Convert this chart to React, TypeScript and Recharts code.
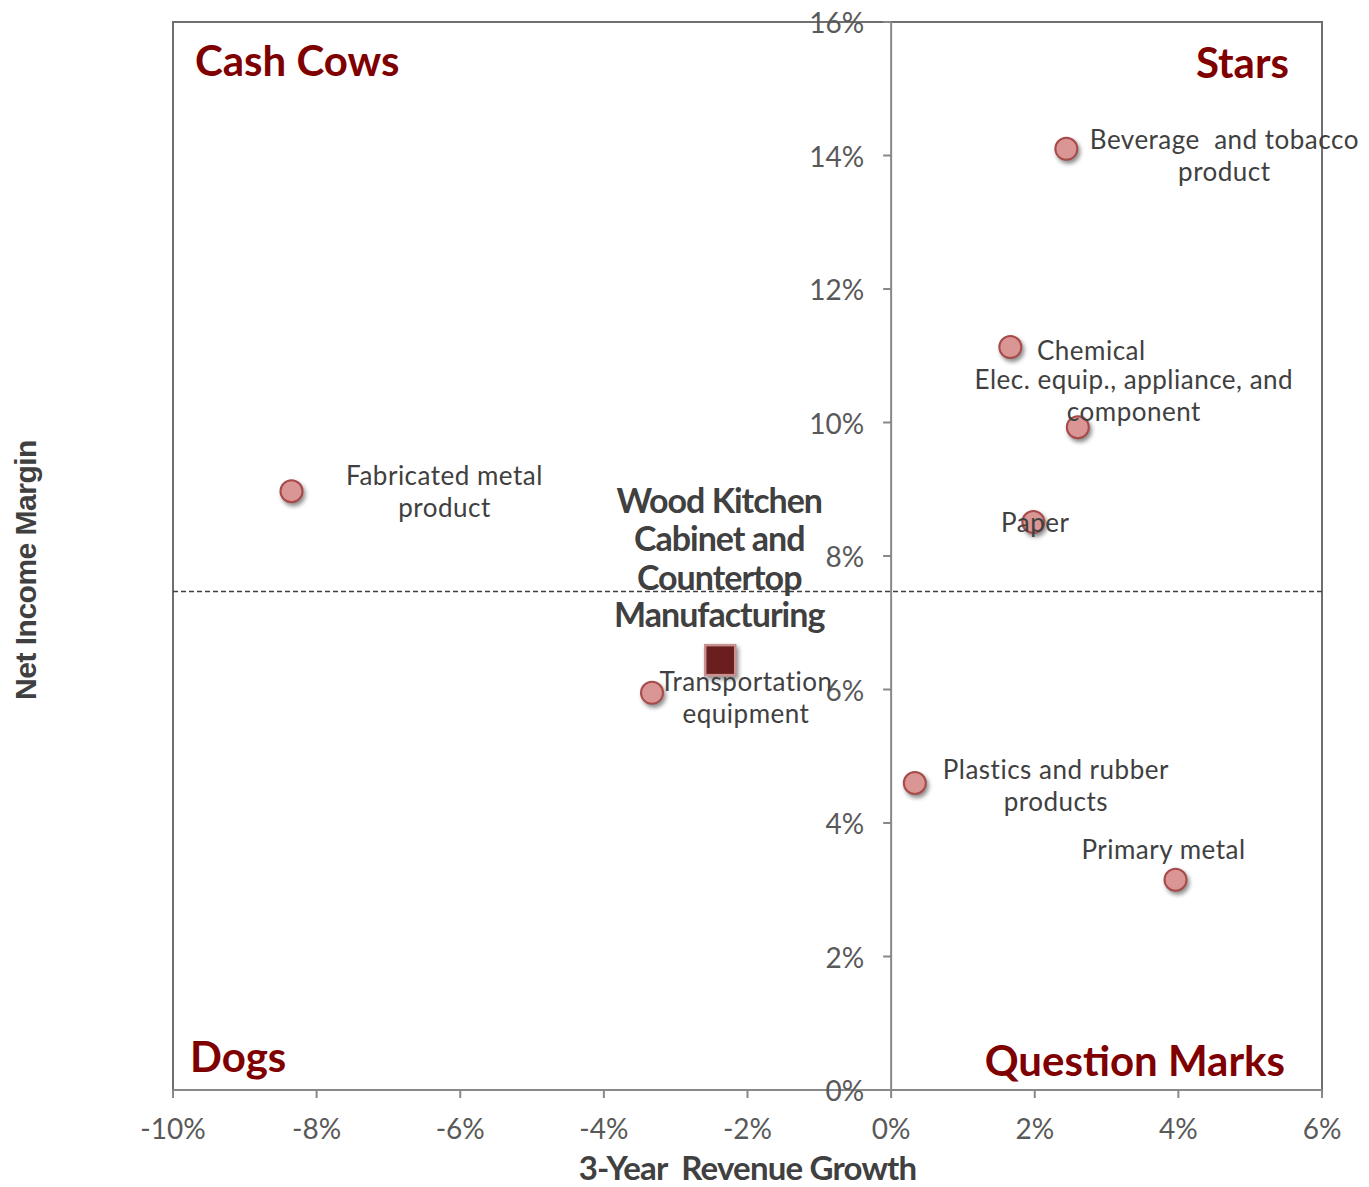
import React from 'react';
import {
  ScatterChart,
  Scatter,
  XAxis,
  YAxis,
  ReferenceLine,
  ReferenceArea,
  ReferenceDot,
  Label,
} from 'recharts';

// ---------- data ----------
const industryNames = [
  'Fabricated metal product',
  'Transportation equipment',
  'Plastics and rubber products',
  'Primary metal',
  'Paper',
  'Elec. equip., appliance, and component',
  'Chemical',
  'Beverage and tobacco product',
];
const revenueGrowth = [-8.35, -3.33, 0.33, 3.96, 1.98, 2.6, 1.66, 2.44];
const netIncomeMargin = [8.97, 5.95, 4.6, 3.15, 8.51, 9.93, 11.13, 14.1];

const focusName = 'Wood Kitchen Cabinet and Countertop Manufacturing';
const focusGrowth = [-2.38];
const focusMargin = [6.44];

const xTicks = [-10, -8, -6, -4, -2, 0, 2, 4, 6];
const yTicks = [0, 2, 4, 6, 8, 10, 12, 14, 16];
const marginThreshold = 7.47;
const quadrantLabels = ['Cash Cows', 'Stars', 'Dogs', 'Question Marks'];
const xTitle = '3-Year  Revenue Growth';
const yTitle = 'Net Income Margin';

// ---------- layout (label placement, not data) ----------
const labelLayout: Record<string, { dx: number; lines: [string, number][] }> = {
  'Fabricated metal product': { dx: 153, lines: [['Fabricated metal', -16], ['product', 16]] },
  'Transportation equipment': { dx: 94, lines: [['Transportation', -12], ['equipment', 20]] },
  'Plastics and rubber products': { dx: 141, lines: [['Plastics and rubber', -14], ['products', 18]] },
  'Primary metal': { dx: -12, lines: [['Primary metal', -31]] },
  Paper: { dx: 2, lines: [['Paper', 0]] },
  'Elec. equip., appliance, and component': {
    dx: 56,
    lines: [['Elec. equip., appliance, and', -48], ['component', -16]],
  },
  Chemical: { dx: 81, lines: [['Chemical', 3]] },
  'Beverage and tobacco product': { dx: 158, lines: [['Beverage  and tobacco', -10], ['product', 22]] },
};
const focusLines: [string, number][] = [
  ['Wood Kitchen', -161],
  ['Cabinet and', -123],
  ['Countertop', -84],
  ['Manufacturing', -47],
];

const industries = industryNames.map((name, i) => ({
  name,
  growth: revenueGrowth[i],
  margin: netIncomeMargin[i],
}));
const focus = focusGrowth.map((g, i) => ({ name: focusName, growth: g, margin: focusMargin[i] }));

const FONT = 'Lato, "Open Sans", sans-serif';
const TEXT = '#404040';
const AXIS_TEXT = '#595959';
const QUAD = '#7f0000';
const shadow = 'drop-shadow(2px 3px 2px rgba(0,0,0,0.45))';

const Circle = (p: any) => (
  <circle
    cx={p.cx}
    cy={p.cy}
    r={11}
    fill="#d99694"
    stroke="#a84a4a"
    strokeWidth={2}
    style={{ filter: shadow }}
  />
);

const Square = (p: any) => (
  <rect
    x={p.cx - 15}
    y={p.cy - 15}
    width={30}
    height={30}
    fill="#6b1e1e"
    stroke="#c99090"
    strokeWidth={2.5}
    style={{ filter: shadow }}
  />
);

const IndustryLabel = (p: any) => {
  const lay = labelLayout[p.payload?.name];
  if (!lay) return <g />;
  return (
    <g>
      {lay.lines.map(([t, dy], i) => (
        <text
          key={i}
          x={p.cx + lay.dx}
          y={p.cy + dy}
          textAnchor="middle"
          dominantBaseline="central"
          fontFamily={FONT}
          fontSize={26}
          letterSpacing={0.5}
          fill={TEXT}
          style={{ whiteSpace: 'pre' }}
        >
          {t}
        </text>
      ))}
    </g>
  );
};

const FocusLabel = (p: any) => (
  <g>
    {focusLines.map(([t, dy], i) => (
      <text
        key={i}
        x={p.cx - 1}
        y={p.cy + dy}
        textAnchor="middle"
        dominantBaseline="central"
        fontFamily={FONT}
        fontWeight={700}
        fontSize={34}
        letterSpacing={-1}
        fill={TEXT}
      >
        {t}
      </text>
    ))}
  </g>
);

const XTick = (p: any) => (
  <text
    x={p.x}
    y={p.y + 28}
    textAnchor="middle"
    dominantBaseline="central"
    fontFamily={FONT}
    fontSize={28}
    fill={AXIS_TEXT}
  >
    {`${p.payload.value}%`}
  </text>
);

const yTickShape = (value: number) => (p: any) => (
  <g>
    <line x1={p.cx - 8} x2={p.cx} y1={p.cy} y2={p.cy} stroke="#888" strokeWidth={2} />
    <text
      x={p.cx - 27}
      y={p.cy}
      textAnchor="end"
      dominantBaseline="central"
      fontFamily={FONT}
      fontSize={28}
      fill={AXIS_TEXT}
    >
      {`${value}%`}
    </text>
  </g>
);

const quadShape = (text: string, dx: number, dy: number, anchor: 'start' | 'end') => (p: any) => (
  <text
    x={p.cx + dx}
    y={p.cy + dy}
    textAnchor={anchor}
    dominantBaseline="central"
    fontFamily={FONT}
    fontWeight={700}
    fontSize={42}
    fill={QUAD}
  >
    {text}
  </text>
);

const yTitleShape = (p: any) => {
  const x = p.cx - 148;
  const y = p.cy + 14;
  return (
    <text
      x={x}
      y={y}
      transform={`rotate(-90, ${x}, ${y})`}
      textAnchor="middle"
      dominantBaseline="central"
      fontFamily='"Liberation Sans", Arial, sans-serif'
      fontWeight={700}
      fontSize={30}
      letterSpacing={-0.5}
      fill={TEXT}
    >
      {yTitle}
    </text>
  );
};

export default function App() {
  return (
    <div>
      <style>{'body{margin:0}'}</style>
      <ScatterChart width={1369} height={1187} margin={{ top: 22, right: 47, bottom: 0, left: 173 }}>
        <XAxis
          type="number"
          dataKey="growth"
          domain={[-10, 6]}
          ticks={xTicks}
          interval={0}
          height={97}
          axisLine={{ stroke: '#888', strokeWidth: 2 }}
          tickLine={{ stroke: '#888', strokeWidth: 2 }}
          tickSize={8}
          tick={<XTick />}
        >
          <Label
            content={(p: any) => (
              <text
                x={p.viewBox.x + p.viewBox.width / 2}
                y={p.viewBox.y + 77}
                textAnchor="middle"
                dominantBaseline="central"
                fontFamily={FONT}
                fontWeight={700}
                fontSize={33}
                letterSpacing={-0.8}
                fill={TEXT}
                style={{ whiteSpace: 'pre' }}
              >
                {xTitle}
              </text>
            )}
          />
        </XAxis>
        <YAxis
          type="number"
          dataKey="margin"
          domain={[0, 16]}
          ticks={yTicks}
          width={0}
          axisLine={false}
          tickLine={false}
          tick={false}
        />
        <ReferenceArea x1={-10} x2={6} y1={0} y2={16} fill="none" stroke="#6f6f6f" strokeWidth={2} ifOverflow="visible" />
        <ReferenceLine x={0} stroke="#888" strokeWidth={2} />
        <ReferenceLine y={marginThreshold} stroke="#404040" strokeWidth={1.5} strokeDasharray="5 3" />
        {yTicks.map((v) => (
          <ReferenceDot key={v} x={0} y={v} r={0} ifOverflow="visible" shape={yTickShape(v)} />
        ))}
        <ReferenceDot x={-10} y={8} ifOverflow="visible" shape={yTitleShape} />
        <ReferenceDot x={-10} y={16} ifOverflow="visible" shape={quadShape(quadrantLabels[0], 22, 38, 'start')} />
        <ReferenceDot x={6} y={16} ifOverflow="visible" shape={quadShape(quadrantLabels[1], -33, 40, 'end')} />
        <ReferenceDot x={-10} y={0} ifOverflow="visible" shape={quadShape(quadrantLabels[2], 17, -34, 'start')} />
        <ReferenceDot x={6} y={0} ifOverflow="visible" shape={quadShape(quadrantLabels[3], -37, -30, 'end')} />
        <Scatter data={industries} shape={Circle} isAnimationActive={false} />
        <Scatter data={focus} shape={Square} isAnimationActive={false} />
        <Scatter data={focus} shape={FocusLabel} isAnimationActive={false} />
        <Scatter data={industries} shape={IndustryLabel} isAnimationActive={false} />
      </ScatterChart>
    </div>
  );
}
